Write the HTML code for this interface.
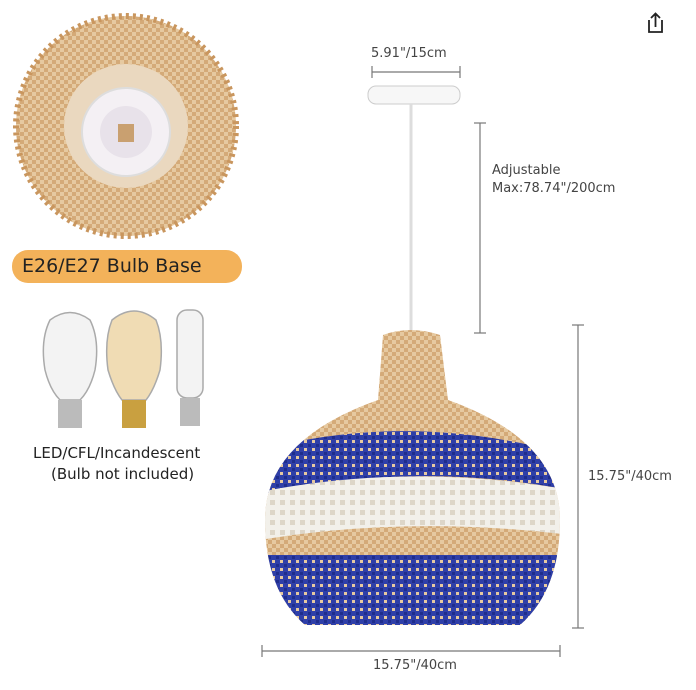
<!DOCTYPE html>
<html><head><meta charset="utf-8"><style>
html,body{margin:0;padding:0;background:#fff;}
body{width:696px;height:690px;position:relative;overflow:hidden;font-family:"DejaVu Sans","Liberation Sans",sans-serif;}
.t{position:absolute;color:#444;font-size:13px;white-space:nowrap;}
</style></head><body>
<svg width="696" height="690" style="position:absolute;left:0;top:0">
<defs>
<pattern id="weave" width="8" height="8" patternUnits="userSpaceOnUse">
<rect width="8" height="8" fill="#e6c9a0"/><rect width="4" height="4" fill="#d4aa78"/><rect x="4" y="4" width="4" height="4" fill="#d4aa78"/>
</pattern>
<pattern id="blue" width="8" height="8" patternUnits="userSpaceOnUse">
<rect width="8" height="8" fill="#2f3fa8"/><rect width="3" height="3" fill="#e6c9a0"/><rect x="4" y="4" width="3" height="3" fill="#1f2d8c"/>
</pattern>
<pattern id="white" width="10" height="10" patternUnits="userSpaceOnUse">
<rect width="10" height="10" fill="#f2f0ea"/><rect width="5" height="5" fill="#ddd6c8"/>
</pattern>
<clipPath id="shade"><path d="M383 335 Q410 325 440 335 L448 400 Q560 440 560 520 Q560 590 520 625 L305 625 Q265 590 265 520 Q265 440 378 400 Z"/></clipPath>
</defs>
<circle cx="126" cy="126" r="110" fill="url(#weave)"/>
<circle cx="126" cy="126" r="110" fill="none" stroke="#c9965e" stroke-width="6" stroke-dasharray="3 4"/>
<circle cx="126" cy="126" r="62" fill="#ead8bf"/>
<circle cx="126" cy="132" r="44" fill="#f4f0f4" stroke="#ddd" stroke-width="2"/>
<circle cx="126" cy="132" r="26" fill="#e8e2ea"/>
<rect x="118" y="124" width="16" height="18" fill="#c9a070"/>
<rect x="12" y="250" width="230" height="33" rx="16" fill="#f3b25a"/>
<g fill="#f3f3f3" stroke="#aaa" stroke-width="1.5">
<path d="M50 320 Q40 340 45 370 Q50 390 60 400 L80 400 Q90 390 95 370 Q100 340 90 320 Q70 305 50 320Z"/>
<path d="M112 320 Q104 340 108 370 Q114 390 122 400 L146 400 Q154 390 160 370 Q164 340 156 320 Q134 302 112 320Z" fill="#f0dcb4"/>
<rect x="177" y="310" width="26" height="88" rx="10"/>
</g>
<g fill="#bbb"><rect x="58" y="400" width="24" height="28"/><rect x="122" y="400" width="24" height="28" fill="#c9a040"/><rect x="180" y="398" width="20" height="28"/></g>
<g stroke="#777" stroke-width="1.2">
<line x1="372" y1="72" x2="460" y2="72"/><line x1="372" y1="66" x2="372" y2="78"/><line x1="460" y1="66" x2="460" y2="78"/>
<line x1="480" y1="123" x2="480" y2="333"/><line x1="474" y1="123" x2="486" y2="123"/><line x1="474" y1="333" x2="486" y2="333"/>
<line x1="578" y1="325" x2="578" y2="628"/><line x1="572" y1="325" x2="584" y2="325"/><line x1="572" y1="628" x2="584" y2="628"/>
<line x1="262" y1="651" x2="560" y2="651"/><line x1="262" y1="645" x2="262" y2="657"/><line x1="560" y1="645" x2="560" y2="657"/>
</g>
<rect x="368" y="86" width="92" height="18" rx="8" fill="#f7f7f7" stroke="#ccc"/>
<line x1="411" y1="104" x2="411" y2="332" stroke="#ddd" stroke-width="3"/>
<g clip-path="url(#shade)">
<rect x="260" y="320" width="310" height="310" fill="url(#weave)"/>
<path d="M260 450 Q410 410 570 455 L570 490 Q410 460 260 495Z" fill="url(#blue)"/>
<path d="M260 492 Q410 462 570 490 L570 535 Q410 515 260 540Z" fill="url(#white)"/>
<rect x="260" y="555" width="310" height="75" fill="url(#blue)"/>
</g>
<g fill="none" stroke="#222" stroke-width="1.8"><path d="M649 20 L649 32 L662 32 L662 20"/><path d="M655.5 27 L655.5 14 M651 18 L655.5 13.5 L660 18"/></g>
</svg>
<div class="t" style="left:22px;top:255px;font-size:19px;color:#222">E26/E27 Bulb Base</div>
<div class="t" style="left:33px;top:444px;font-size:15px;color:#222">LED/CFL/Incandescent</div>
<div class="t" style="left:51px;top:465px;font-size:15px;color:#222">(Bulb not included)</div>
<div class="t" style="left:371px;top:46px;">5.91"/15cm</div>
<div class="t" style="left:492px;top:163px;">Adjustable</div>
<div class="t" style="left:492px;top:181px;">Max:78.74"/200cm</div>
<div class="t" style="left:588px;top:469px;">15.75"/40cm</div>
<div class="t" style="left:373px;top:658px;">15.75"/40cm</div>
</body></html>
